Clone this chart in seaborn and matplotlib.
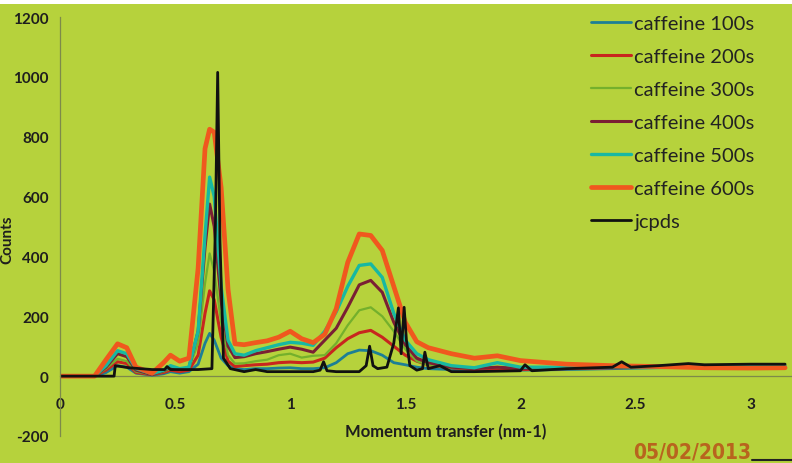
import matplotlib
matplotlib.use("Agg")
import matplotlib.pyplot as plt
from matplotlib.patches import Rectangle
import seaborn as sns
import pandas as pd

# ---------------- data ----------------
q = [0.00, 0.15, 0.20, 0.25, 0.29, 0.33, 0.40, 0.45, 0.48, 0.52,
     0.56, 0.60, 0.63, 0.65, 0.67, 0.70, 0.73, 0.76, 0.80, 0.85,
     0.90, 0.95, 1.00, 1.05, 1.10, 1.15, 1.20, 1.25, 1.30, 1.35,
     1.40, 1.45, 1.50, 1.55, 1.60, 1.70, 1.80, 1.90, 2.00, 2.20,
     2.40, 2.60, 2.80, 3.00, 3.15]

caf_100 = [0, 0, 12, 35, 30, 10, 3, 8, 15, 10,
           15, 40, 110, 143, 120, 60, 35, 25, 22, 25,
           25, 27, 28, 25, 25, 28, 45, 75, 87, 85,
           70, 45, 38, 30, 25, 22, 20, 22, 20, 22,
           25, 28, 30, 30, 30]
caf_200 = [0, 0, 20, 48, 42, 12, 5, 12, 20, 15,
           20, 70, 210, 285, 255, 130, 50, 32, 35, 38,
           40, 45, 47, 45, 47, 60, 95, 125, 145, 153,
           130, 100, 70, 50, 38, 28, 22, 25, 22, 25,
           28, 30, 30, 30, 30]
caf_300 = [0, 0, 25, 58, 50, 15, 5, 15, 25, 20,
           25, 110, 310, 410, 350, 180, 70, 42, 43, 50,
           55, 70, 75, 62, 68, 70, 110, 170, 220, 230,
           200, 150, 90, 50, 38, 28, 25, 30, 25, 27,
           28, 30, 30, 32, 32]
caf_400 = [0, 0, 30, 75, 65, 20, 5, 18, 30, 22,
           28, 150, 430, 575, 500, 250, 100, 62, 65, 75,
           82, 90, 97, 90, 80, 120, 160, 230, 305, 320,
           280, 180, 105, 60, 45, 30, 25, 30, 25, 28,
           30, 30, 32, 33, 33]
caf_500 = [0, 0, 35, 85, 75, 25, 8, 20, 35, 25,
           30, 150, 470, 665, 600, 300, 120, 75, 70, 85,
           95, 105, 113, 110, 103, 150, 215, 300, 370, 375,
           330, 210, 120, 75, 55, 35, 28, 45, 30, 30,
           32, 30, 32, 33, 33]
caf_600 = [0, 0, 55, 108, 95, 30, 10, 45, 70, 50,
           60, 360, 760, 825, 815, 630, 290, 108, 105, 112,
           118, 130, 150, 125, 112, 140, 225, 380, 475, 470,
           420, 300, 180, 115, 95, 75, 60, 68, 52, 40,
           35, 32, 28, 27, 28]

q_ref = [0, 0.235, 0.24, 0.30, 0.40, 0.455, 0.465, 0.48, 0.60, 0.66,
         0.675, 0.685, 0.695, 0.71, 0.74, 0.80, 0.85, 0.90, 1.00, 1.10,
         1.13, 1.145, 1.16, 1.20, 1.30, 1.33, 1.345, 1.36, 1.38, 1.42,
         1.45, 1.47, 1.482, 1.495, 1.505, 1.52, 1.55, 1.575, 1.585, 1.60,
         1.65, 1.70, 1.80, 2.00, 2.02, 2.05, 2.20, 2.40, 2.44, 2.48,
         2.60, 2.73, 2.80, 3.00, 3.15]
jcpds = [0, 0, 35, 28, 22, 22, 32, 22, 22, 25,
         500, 1015, 450, 60, 25, 15, 22, 15, 15, 15,
         20, 48, 18, 15, 15, 35, 100, 35, 25, 30,
         110, 228, 75, 230, 120, 35, 20, 25, 80, 25,
         35, 15, 15, 18, 38, 18, 25, 30, 48, 30,
         35, 42, 38, 40, 40]

labels = ["caffeine 100s", "caffeine 200s", "caffeine 300s",
          "caffeine 400s", "caffeine 500s", "caffeine 600s", "jcpds"]
y_ticks = [-200, 0, 200, 400, 600, 800, 1000, 1200]
x_ticks = [0, 0.5, 1, 1.5, 2, 2.5, 3]
x_tick_labels = ["0", "0.5", "1", "1.5", "2", "2.5", "3"]

# ---------------- style ----------------
sns.set_theme(style="white")
plt.rcParams["font.family"] = ["Lato", "DejaVu Sans"]
plt.rcParams["axes.unicode_minus"] = False

BG = "#b6d23c"
colors = ["#1d7f95", "#c8261e", "#74b02c", "#7a1f34", "#17b8a2", "#f0581e", "#111111"]
widths = [2.0, 2.2, 1.6, 2.2, 2.4, 3.4, 2.0]

fig = plt.figure(figsize=(7.92, 4.64), dpi=100)
fig.patch.set_facecolor(BG)
ax = fig.add_axes([60 / 792, 27 / 464, 732 / 792, 419 / 464])
ax.set_facecolor(BG)

series = [caf_100, caf_200, caf_300, caf_400, caf_500, caf_600]
for vals, lab, c, lw in zip(series, labels[:6], colors[:6], widths[:6]):
    df = pd.DataFrame({"q": q, "counts": vals})
    sns.lineplot(data=df, x="q", y="counts", ax=ax, color=c, lw=lw, label=lab)
dfr = pd.DataFrame({"q": q_ref, "counts": jcpds})
sns.lineplot(data=dfr, x="q", y="counts", ax=ax, color=colors[6], lw=widths[6], label=labels[6])

ax.set_xlim(0, 3.18)
ax.set_ylim(-200, 1200)
ax.set_yticks(y_ticks)
ax.set_xticks(x_ticks)
ax.set_xticklabels(x_tick_labels)

for s in ["top", "right"]:
    ax.spines[s].set_visible(False)
ax.spines["bottom"].set_position(("data", 0))
ax.spines["bottom"].set_zorder(0)
for s in ["left", "bottom"]:
    ax.spines[s].set_color("#7d8a4a")
    ax.spines[s].set_linewidth(0.9)

ax.tick_params(axis="x", direction="out", length=4, width=0.8, color="#7d8a4a",
               pad=11, labelsize=11, labelcolor="#1e1e1e")
ax.tick_params(axis="y", direction="out", length=4, width=0.8, color="#7d8a4a",
               pad=4, labelsize=11, labelcolor="#1e1e1e")
for t in ax.get_xticklabels() + ax.get_yticklabels():
    t.set_fontweight("bold")

ax.set_xlabel("Momentum transfer (nm-1)", fontsize=12, fontweight="bold", color="#1e1e1e")
ax.xaxis.set_label_coords(0.527, 0.03)
ax.set_ylabel("Counts", fontsize=11, fontweight="bold", color="#1e1e1e")
ax.yaxis.set_label_coords(-0.062, 0.47)

leg = ax.legend(loc="upper left", bbox_to_anchor=(583 / 792, 1 - 8 / 464),
                bbox_transform=fig.transFigure, frameon=False, fontsize=14.5,
                handlelength=2.0, handletextpad=0.15, labelspacing=0.79,
                borderaxespad=0)
for t in leg.get_texts():
    t.set_color("#222222")

# white strip at top of the photo and camera date stamp
fig.patches.append(Rectangle((0, 1 - 5 / 464), 1, 5 / 464, transform=fig.transFigure,
                             facecolor="white", edgecolor="none", zorder=10))
fig.text(692 / 792, 1 - 453 / 464, "05/02/2013", ha="center", va="center",
         fontsize=15, fontweight="bold", fontstretch="condensed",
         family="DejaVu Sans", color="#b8641e")
fig.add_artist(plt.Line2D([752 / 792, 1], [1 - 461 / 464, 1 - 461 / 464],
                          transform=fig.transFigure, color="#222222", lw=1.5))

fig.savefig("out.png", dpi=100, facecolor=BG)
